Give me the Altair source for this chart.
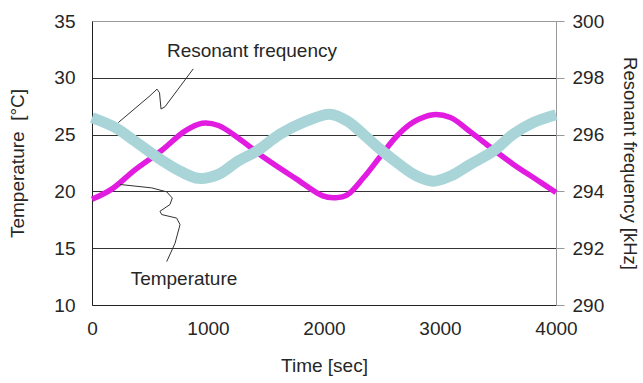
import altair as alt
import pandas as pd

# Temperature series (left axis, °C)
temp_t = [0, 170, 370, 600, 800, 950, 1090, 1260, 1480, 1760, 1990, 2100, 2200,
          2340, 2480, 2630, 2770, 2940, 3090, 3230, 3400, 3630, 3830, 4000]
temp_v = [19.3, 20.2, 21.9, 23.6, 25.3, 26.0, 25.8, 24.7, 23.0, 21.1, 19.6, 19.45, 19.7,
          21.2, 23.0, 24.9, 26.1, 26.75, 26.5, 25.5, 24.15, 22.4, 21.05, 19.9]

# Resonant frequency series (right axis, kHz)
freq_t = [0, 200, 370, 570, 770, 920, 1090, 1260, 1420, 1620, 1850, 2050, 2200,
          2340, 2480, 2650, 2800, 2940, 3090, 3260, 3460, 3630, 3800, 4000]
freq_v = [296.6, 296.25, 295.77, 295.18, 294.69, 294.46, 294.6, 295.07, 295.42, 296.01,
          296.48, 296.72, 296.48, 296.01, 295.5, 294.95, 294.54, 294.36, 294.54, 294.95,
          295.42, 296.01, 296.42, 296.7]

# Annotation leader lines (in time / temperature units)
lead_freq_t = [227, 500, 560, 582, 595, 629, 873]
lead_freq_v = [26.06, 28.42, 29.0, 28.69, 27.25, 27.45, 30.79]
lead_temp_t = [241, 515, 644, 692, 672, 586, 601, 730, 759, 716, 644]
lead_temp_v = [20.61, 20.31, 19.96, 19.42, 18.84, 18.25, 17.96, 17.65, 17.07, 15.44, 13.82]

label_text = ["Resonant frequency", "Temperature"]
label_t = [1379, 793]
label_v = [32.4, 12.3]

x_ticks = [0, 1000, 2000, 3000, 4000]
left_ticks = [10, 15, 20, 25, 30, 35]
right_ticks = [290, 292, 294, 296, 298, 300]

FONT = "Liberation Sans, Arial, sans-serif"
TXT = "#262626"

temp_df = pd.DataFrame({"t": temp_t, "v": temp_v})
freq_df = pd.DataFrame({"t": freq_t, "v": freq_v})
lead_df = pd.concat([
    pd.DataFrame({"t": lead_freq_t, "v": lead_freq_v, "g": "f", "i": range(len(lead_freq_t))}),
    pd.DataFrame({"t": lead_temp_t, "v": lead_temp_v, "g": "T", "i": range(len(lead_temp_t))}),
])
label_df = pd.DataFrame({"txt": label_text, "t": label_t, "v": label_v})

xscale = alt.Scale(domain=[0, 4000], nice=False)
xaxis = alt.Axis(values=x_ticks, title="Time [sec]", ticks=False, tickSize=0, grid=False,
                 domainColor="#222", labelPadding=14, titlePadding=18, labelFontSize=19,
                 titleFontSize=19, labelFont=FONT, titleFont=FONT, labelColor=TXT,
                 titleColor=TXT, titleFontWeight="normal", format="d", labelFlush=False)
X = alt.X("t:Q", scale=xscale, axis=xaxis)

left_scale = alt.Scale(domain=[10, 35], nice=False)

temp_line = alt.Chart(temp_df).mark_line(color="#E11BE0", strokeWidth=5.5,
                                         interpolate="catmull-rom").encode(
    x=X,
    y=alt.Y("v:Q", scale=left_scale,
            axis=alt.Axis(values=left_ticks, orient="left", title="Temperature \u00a0[°C]",
                          ticks=False, tickSize=0, domainColor="#222", grid=True,
                          gridColor="#333", gridWidth=1,
                          gridOpacity={"condition": {"test": "datum.value === 35 || datum.value === 10",
                                                     "value": 0}, "value": 1},
                          labelPadding=17, titlePadding=26, labelFontSize=19,
                          titleFontSize=19, labelFont=FONT, titleFont=FONT,
                          labelColor=TXT, titleColor=TXT, titleFontWeight="normal")),
)

freq_line = alt.Chart(freq_df).mark_line(color="#A9D5D8", strokeWidth=11,
                                         interpolate="catmull-rom").encode(
    x=X,
    y=alt.Y("v:Q", scale=alt.Scale(domain=[290, 300], nice=False),
            axis=alt.Axis(values=right_ticks, orient="right",
                          title="Resonant frequency [kHz]", grid=False,
                          domainColor="#999", tickColor="#999", tickSize=8,
                          labelPadding=8, titlePadding=16, labelFontSize=19,
                          titleFontSize=18.5, labelFont=FONT, titleFont=FONT,
                          labelColor=TXT, titleColor=TXT, titleFontWeight="normal")),
)

lead_lines = alt.Chart(lead_df).mark_line(color="#333", strokeWidth=1).encode(
    x=X,
    y=alt.Y("v:Q", scale=left_scale, axis=None),
    detail="g:N",
    order="i:Q",
)

labels = alt.Chart(label_df).mark_text(font=FONT, fontSize=19, color=TXT,
                                       align="center", baseline="middle").encode(
    x=X,
    y=alt.Y("v:Q", scale=left_scale, axis=None),
    text="txt:N",
)

chart = alt.layer(temp_line, freq_line, lead_lines, labels).resolve_scale(
    y="independent"
).properties(
    width=464, height=284,
    autosize=alt.AutoSizeParams(type="none"),
    padding={"left": 92, "top": 21, "right": 87, "bottom": 78},
    background="white",
).configure_view(stroke="#999", strokeWidth=1)

chart.save("out.html", embed_options={"renderer": "svg", "actions": False})
